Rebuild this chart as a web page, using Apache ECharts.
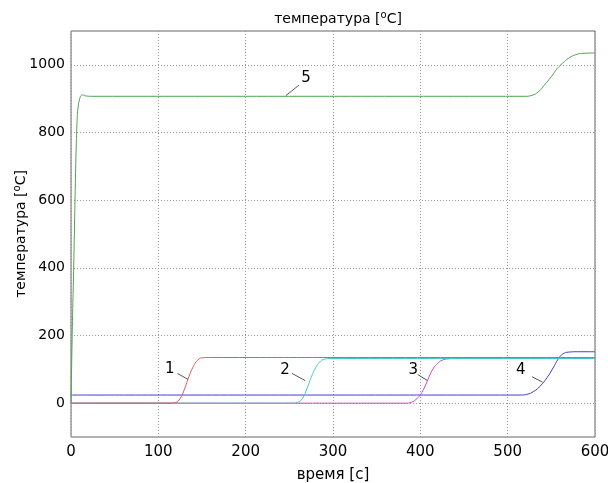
<html>
<head>
    <script src="https://cdn.jsdelivr.net/npm/echarts@6/dist/echarts.min.js"></script>
</head>
<body style="margin:0;background:#fff">
    <div id="main" style="width:608px;height:483px;"></div>
    <script>
        // kriva 1 (crvena)
        var curve1 = [[0, 0], [115, 0], [120, 2], [125, 14], [130, 42], [135, 78], [140, 108], [145, 127], [150, 134], [160, 135], [300, 135], [600, 135]];
        // kriva 2 (cijan)
        var curve2 = [[0, 0], [254, 0], [260, 3], [265, 14], [270, 42], [275, 76], [280, 104], [285, 122], [290, 130], [298, 132], [600, 132]];
        // kriva 3 (magenta)
        var curve3 = [[0, 0], [383, 0], [390, 3], [395, 11], [400, 25], [405, 48], [410, 78], [415, 103], [420, 118], [425, 127], [432, 131], [440, 132], [600, 132]];
        // kriva 4 (plava)
        var curve4 = [[0, 24], [515, 24], [522, 26], [530, 35], [537, 50], [545, 75], [552, 104], [558, 131], [563, 145], [570, 151], [580, 152], [600, 152]];
        // kriva 5 (zelena)
        var curve5 = [[0, 0], [1, 150], [2, 280], [3, 390], [4, 520], [5, 650], [6, 760], [7, 835], [8, 872], [10, 900], [12, 910], [14, 911], [17, 908], [25, 907], [520, 907], [528, 910], [535, 920], [542, 940], [550, 965], [557, 990], [563, 1005], [570, 1020], [578, 1030], [586, 1034], [600, 1035]];

        var xTicks = [0, 100, 200, 300, 400, 500, 600];
        var yTicks = [0, 200, 400, 600, 800, 1000];

        // oznake krivih: tekst, pozicija teksta, linija do krive
        var labelTexts = ['1', '2', '3', '4', '5'];
        var labelCoords = [[113, 100], [245, 97], [392, 97], [515, 97], [269, 960]];
        var leaderLines = [
            [[122, 88], [134, 70]],
            [[253, 88], [268, 67]],
            [[397, 85], [408, 67]],
            [[528, 78], [540, 62]],
            [[261, 940], [246, 909]]
        ];

        var colors = ['#e05a5a', '#45c8c8', '#c848c8', '#3f3fcc', '#4fa24f'];
        var curves = [curve1, curve2, curve3, curve4, curve5];

        var font = 'DejaVu Sans';
        var supRich = {
            n: { fontFamily: font, fontSize: 14, fontWeight: 'normal', color: '#000', lineHeight: 16, verticalAlign: 'bottom' },
            sup: { fontFamily: font, fontSize: 10, fontWeight: 'normal', color: '#000', lineHeight: 16, verticalAlign: 'top' }
        };

        var series = curves.map(function (c, i) {
            return {
                type: 'line',
                data: c,
                symbol: 'none',
                smooth: 0.5,
                lineStyle: { color: colors[i], width: 1 },
                z: i === 4 ? 3 : 2 + (4 - i) * 0.1,
                markLine: {
                    silent: true,
                    symbol: 'none',
                    label: { show: false },
                    lineStyle: { color: '#555', width: 1, type: 'solid' },
                    data: [[{ coord: leaderLines[i][0] }, { coord: leaderLines[i][1] }]]
                },
                markPoint: {
                    silent: true,
                    symbol: 'circle',
                    symbolSize: 0,
                    label: {
                        show: true,
                        position: 'inside',
                        formatter: labelTexts[i],
                        color: '#000',
                        fontFamily: font,
                        fontSize: 15
                    },
                    data: [{ coord: labelCoords[i] }]
                }
            };
        });

        var myChart = echarts.init(document.getElementById('main'));
        var option = {
            animation: false,
            title: {
                text: '{n|температура [}{sup|o}{n|C]}',
                left: 333,
                textAlign: 'center',
                top: 5,
                textStyle: { fontWeight: 'normal', rich: supRich }
            },
            grid: {
                left: 71, right: 13, top: 31, bottom: 46,
                outerBoundsMode: 'none',
                containLabel: false,
                show: true, borderColor: '#666', borderWidth: 1
            },
            xAxis: {
                type: 'value',
                min: 0, max: 600, interval: 100,
                name: 'время [с]',
                nameLocation: 'middle',
                nameGap: 31,
                nameMoveOverlap: false,
                nameTextStyle: { fontFamily: font, fontSize: 15, color: '#000' },
                axisLine: { show: false },
                axisTick: { show: false },
                axisLabel: { fontFamily: font, fontSize: 15, color: '#000', margin: 8,
                    formatter: function (v) { return xTicks.indexOf(v) >= 0 ? String(v) : ''; } },
                splitLine: { show: true, lineStyle: { color: '#999', type: [1, 2], width: 1 } }
            },
            yAxis: {
                type: 'value',
                min: -100, max: 1100, interval: 100,
                name: '{n|температура [}{sup|o}{n|C]}',
                nameLocation: 'middle',
                nameGap: 43,
                nameMoveOverlap: false,
                nameTextStyle: { rich: supRich },
                axisLine: { show: false },
                axisTick: { show: false },
                axisLabel: { fontFamily: font, fontSize: 14, color: '#000', margin: 6,
                    formatter: function (v) { return yTicks.indexOf(v) >= 0 ? String(v) : ''; } },
                splitLine: {
                    show: true,
                    lineStyle: {
                        color: ['transparent', '#999', 'transparent', '#999', 'transparent', '#999', 'transparent', '#999', 'transparent', '#999', 'transparent', '#999', 'transparent'],
                        type: [1, 2], width: 1
                    }
                }
            },
            series: series
        };
        myChart.setOption(option);
    </script>
</body>
</html>
